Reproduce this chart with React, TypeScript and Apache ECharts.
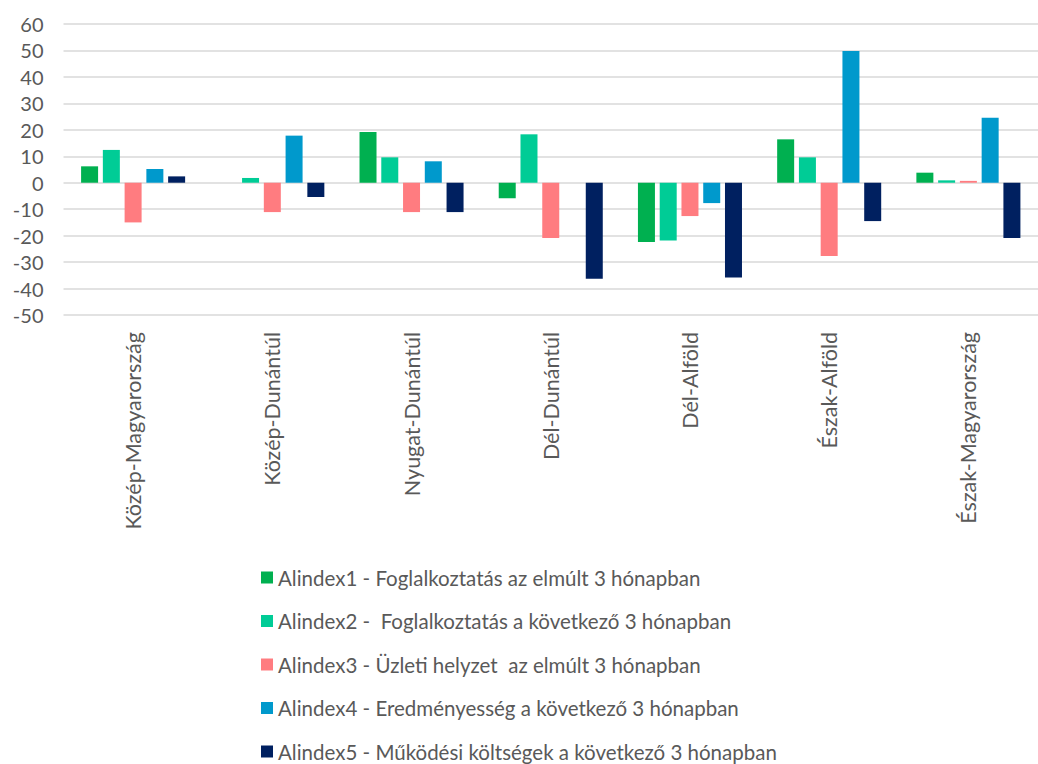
import React, { useEffect, useRef } from "react";
import * as echarts from "echarts";

const categories = [
  "Közép-Magyarország",
  "Közép-Dunántúl",
  "Nyugat-Dunántúl",
  "Dél-Dunántúl",
  "Dél-Alföld",
  "Észak-Alföld",
  "Észak-Magyarország",
];

const seriesNames = [
  "Alindex1 - Foglalkoztatás az elmúlt 3 hónapban",
  "Alindex2 -  Foglalkoztatás a következő 3 hónapban",
  "Alindex3 - Üzleti helyzet  az elmúlt 3 hónapban",
  "Alindex4 - Eredményesség a következő 3 hónapban",
  "Alindex5 - Működési költségek a következő 3 hónapban",
];

const alindex1 = [6.2, 0, 19.2, -5.9, -22.4, 16.4, 3.8];
const alindex2 = [12.4, 1.8, 9.6, 18.3, -21.8, 9.6, 0.9];
const alindex3 = [-15, -11.1, -11.1, -20.9, -12.6, -27.7, 0.7];
const alindex4 = [5.2, 17.8, 8.1, 0, -7.7, 49.8, 24.6];
const alindex5 = [2.4, -5.4, -11.1, -36.3, -35.8, -14.5, -20.9];

const seriesValues = [alindex1, alindex2, alindex3, alindex4, alindex5];
const colors = ["#00B050", "#00CC96", "#FF7C80", "#0099CC", "#002060"];

const yMin = -50;
const yMax = 60;
const yInterval = 10;

const FONT = "Lato";
const TEXT = "#595959";

export default function App() {
  const ref = useRef<HTMLDivElement>(null);

  useEffect(() => {
    if (!ref.current) return;
    const chart = echarts.init(ref.current, undefined, { renderer: "svg" });
    chart.setOption({
      animation: false,
      backgroundColor: "#ffffff",
      color: colors,
      grid: { left: 63.5, top: 24, width: 987, height: 291, containLabel: false },
      legend: {
        orient: "vertical",
        left: 256,
        top: 562,
        height: 200,
        itemWidth: 12,
        itemHeight: 12,
        itemGap: 22.5,
        icon: "rect",
        selectedMode: false,
        textStyle: { fontFamily: FONT, fontSize: 20.5, color: TEXT },
        data: seriesNames,
      },
      xAxis: {
        type: "category",
        data: categories,
        axisLine: { show: false, onZero: false },
        axisTick: { show: false },
        axisLabel: {
          rotate: 90,
          margin: 17,
          fontFamily: FONT,
          fontSize: 21.5,
          color: TEXT,
          interval: 0,
        },
        splitLine: { show: false },
      },
      yAxis: {
        type: "value",
        min: yMin,
        max: yMax,
        interval: yInterval,
        axisLine: { show: false },
        axisTick: { show: false },
        axisLabel: { fontFamily: FONT, fontSize: 20, color: TEXT, margin: 20 },
        splitLine: { lineStyle: { color: "#D9D9D9", width: 1.5 } },
      },
      series: seriesNames.map((name, i) => ({
        name,
        type: "bar",
        data: seriesValues[i],
        barWidth: 17,
        barGap: "28%",
        itemStyle: { color: colors[i] },
      })),
    });
    return () => chart.dispose();
  }, []);

  return (
    <div
      ref={ref}
      style={{ position: "fixed", left: 0, top: 0, width: 1038, height: 764 }}
    />
  );
}
